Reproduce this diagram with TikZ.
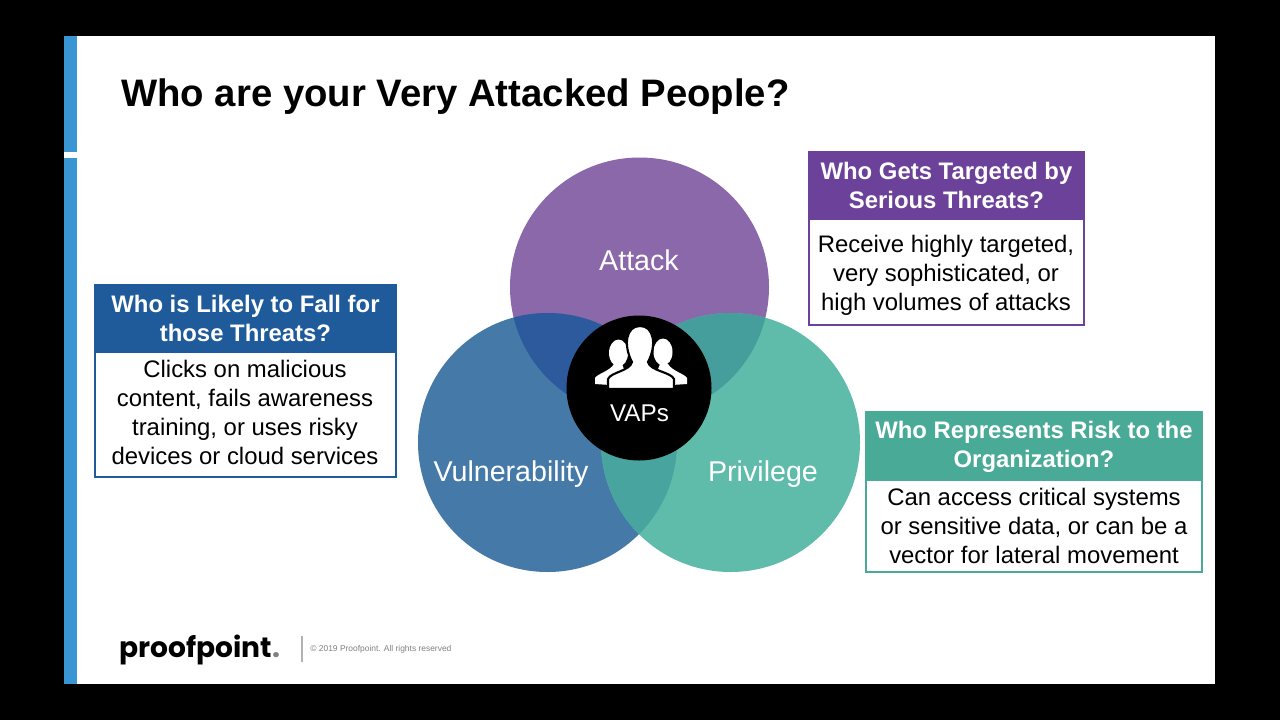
\documentclass[tikz,border=0pt]{standalone}
\usepackage{fontspec}
\usepackage{xcolor}
\setmainfont{Liberation Sans}
\newfontfamily\logofont{Poppins}
\definecolor{barblue}{HTML}{3A96D3}
\definecolor{atkpurple}{HTML}{8A68A9}
\definecolor{vulnblue}{HTML}{4579A8}
\definecolor{privteal}{HTML}{5FBBAA}
\definecolor{atkvuln}{HTML}{2C5A9C}
\definecolor{atkpriv}{HTML}{459E9B}
\definecolor{vulnpriv}{HTML}{48A49F}
\definecolor{headpurple}{HTML}{6C4199}
\definecolor{headblue}{HTML}{1F5B9B}
\definecolor{headteal}{HTML}{49AA97}
\tikzset{
    headbox/.style={anchor=north west,inner sep=0pt,outer sep=0pt,align=center,
        text=white,font=\fontsize{13.6}{16.5}\selectfont\bfseries},
    bodytext/.style={inner sep=0pt,align=center,font=\fontsize{13.6}{16.5}\selectfont},
    bodyframe/.style={fill=white,line width=1.14pt},
    circlabel/.style={text=white,inner sep=0pt,font=\fontsize{16.3}{18}\selectfont},
}
\begin{document}
\begin{tikzpicture}[x=0.02cm,y=-0.02cm]
    \useasboundingbox (0,0) rectangle (1280,720);

    % Slide
    \fill [black] (0,0) rectangle (1280,720);
    \fill [white] (77,36) rectangle (1215,684);
    \fill [barblue] (64,36) rectangle (77,152);
    \fill [barblue] (64,158) rectangle (77,684);
    \fill [white] (64,152) rectangle (77,158);

    \node (title) [anchor=west,inner sep=0pt,font=\fontsize{21.8}{25}\selectfont\bfseries]
        at (121,97) {Who are your Very Attacked People?};

    % Circles
    \coordinate (A) at (639.5,287);
    \coordinate (V) at (547.5,442.5);
    \coordinate (P) at (730.5,442.5);
    \fill [atkpurple] (A) circle [radius=129.5];
    \fill [vulnblue] (V) circle [radius=129.5];
    \fill [privteal] (P) circle [radius=129.5];

    % Overlaps
    \begin{scope}
        \clip (A) circle [radius=129.5];
        \fill [atkvuln] (V) circle [radius=129.5];
        \fill [atkpriv] (P) circle [radius=129.5];
    \end{scope}
    \begin{scope}
        \clip (V) circle [radius=129.5];
        \fill [vulnpriv] (P) circle [radius=129.5];
    \end{scope}

    % VAPs
    \fill [black] (639,388) circle [radius=72.5];
    \fill [white] (618.5,353) ellipse [x radius=9.5,y radius=13.5];
    \fill [white] (663,352) ellipse [x radius=9.5,y radius=13.5];
    \fill [white] (595,384) -- (595,378) .. controls (597,374) and (610,371) .. (614,364)
        -- (622,364) -- (630,385) -- (610,385) -- cycle;
    \fill [white] (687,384) -- (687,378) .. controls (685,374) and (672,371) .. (668,364)
        -- (660,364) -- (652,385) -- (672,385) -- cycle;
    \draw [black,fill=white,line width=1.2pt] (608,389) -- (608,379)
        .. controls (611,372) and (630,371) .. (632,362)
        .. controls (623,345) and (626,326) .. (640,326)
        .. controls (654,326) and (657,345) .. (648,362)
        .. controls (650,371) and (671,372) .. (674,379) -- (674,389) -- cycle;
    \node (vaps) [circlabel,font=\fontsize{13.8}{17}\selectfont] at (639.5,413) {VAPs};

    \node (attack) [circlabel] at (639,260) {Attack};
    \node (vuln) [circlabel] at (511,474) {Vulnerability};
    \node (priv) [circlabel] at (763,474) {Privilege};

    % Who Gets Targeted
    \node (targethead) [headbox,fill=headpurple,minimum width=157.6pt,minimum height=38.7pt]
        at (808,151) {Who Gets Targeted by\\Serious Threats?};
    \draw [bodyframe,draw=headpurple] (809,219) rectangle (1084,325);
    \node (targetbody) [bodytext] at (946,275.5)
        {Receive highly targeted,\\very sophisticated, or\\high volumes of attacks};

    % Who is Likely
    \node (likelyhead) [headbox,fill=headblue,minimum width=172.4pt,minimum height=38.7pt]
        at (94,284) {Who is Likely to Fall for\\those Threats?};
    \draw [bodyframe,draw=headblue] (95,352) rectangle (396,477);
    \node (likelybody) [bodytext] at (245,412.5)
        {Clicks on malicious\\content, fails awareness\\training, or uses risky\\devices or cloud services};

    % Who Represents Risk
    \node (riskhead) [headbox,fill=headteal,minimum width=192.3pt,minimum height=40.4pt]
        at (865,411) {Who Represents Risk to the\\Organization?};
    \draw [bodyframe,draw=headteal] (866,480) rectangle (1202,572);
    \node (riskbody) [bodytext] at (1034,526.4)
        {Can access critical systems\\or sensitive data, or can be a\\vector for lateral movement};

    % Footer
    \node (logo) [anchor=west,inner sep=0pt,font=\fontsize{16}{20}\logofont\bfseries]
        at (119,650) {proofpoint\textcolor{black!50}{.}};
    \draw [black!30,line width=0.6pt] (302,636) -- (302,662);
    \node (copy) [anchor=west,inner sep=0pt,text=black!50,font=\fontsize{4.8}{6}\selectfont]
        at (310,649) {© 2019 Proofpoint. All rights reserved};
\end{tikzpicture}
\end{document}
